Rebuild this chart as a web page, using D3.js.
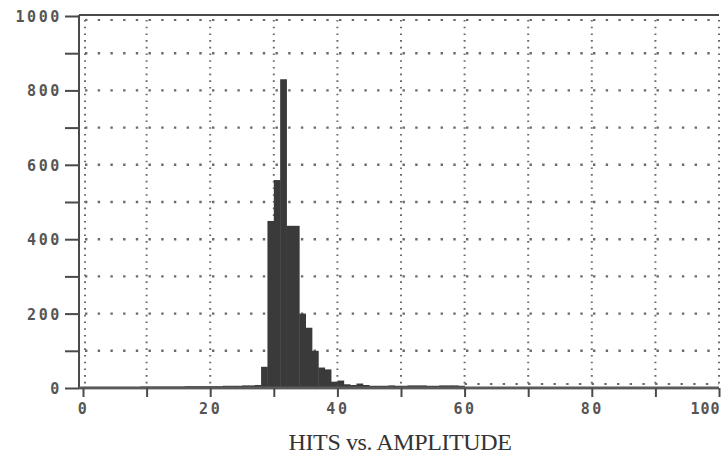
<!DOCTYPE html>
<html><head><meta charset="utf-8">
<script src="https://cdn.jsdelivr.net/npm/d3@7"></script>
<style>html,body{margin:0;padding:0;background:#fff;}svg{display:block;}</style>
</head><body>
<svg id="c" width="721" height="457"></svg>
<script>
// Histogram: hits per 1-unit amplitude bin (bin start values)
const binStarts = d3.range(0, 60);
const hits = [3,3,3,3,3,3,3,3,3,4,4,4,4,4,4,4,5,5,5,5,5,5,6,6,6,7,7,8,
  57,449,559,830,436,436,200,162,100,55,50,17,20,10,8,12,8,6,6,6,7,6,6,7,7,7,6,6,7,7,7,6];
const xTickLabels = ["0","20","40","60","80","100"];
const yTickLabels = ["0","200","400","600","800","1000"];
const title = "HITS vs. AMPLITUDE";

const svg = d3.select("#c");
const x = d3.scaleLinear().domain([0,100]).range([83,719]);
const y = d3.scaleLinear().domain([0,1000]).range([388,16]);
const ink = "#4a4a4a", grid = "#6a6a6a";

// grid: vertical dotted lines every 10
const gv = svg.append("g");
d3.range(0,101,10).forEach(v=>{
  const xx = v===0 ? x(v)+2 : x(v);
  gv.append("line").attr("x1",xx).attr("x2",xx).attr("y1",y(1000)+4).attr("y2",y(0)-3)
    .attr("stroke",grid).attr("stroke-width",2).attr("stroke-dasharray","1.6,5.1");
});
// horizontal dotted lines every 100
d3.range(100,1000,100).forEach(v=>{
  gv.append("line").attr("x1",x(0)+2).attr("x2",x(100)).attr("y1",y(v)).attr("y2",y(v))
    .attr("stroke",grid).attr("stroke-width",2.4).attr("stroke-dasharray","2.4,10.3");
});
// top row of dots just under top border
gv.append("line").attr("x1",x(0)+2).attr("x2",x(100)).attr("y1",y(1000)+4).attr("y2",y(1000)+4)
  .attr("stroke",grid).attr("stroke-width",2).attr("stroke-dasharray","2.4,10.3");
// dots just above baseline beyond data
gv.append("line").attr("x1",x(60)).attr("x2",x(100)).attr("y1",y(0)-4).attr("y2",y(0)-4)
  .attr("stroke",grid).attr("stroke-width",2).attr("stroke-dasharray","2.4,10.3");

// bars
svg.append("g").selectAll("rect").data(binStarts).join("rect")
  .attr("x",d=>x(d)).attr("width",d=>x(d+1)-x(d)+0.4)
  .attr("y",(d,i)=>y(hits[i])).attr("height",(d,i)=>y(0)-y(hits[i]))
  .attr("fill","#3a3a3a");

// frame: left axis, top border, bottom axis
svg.append("line").attr("x1",x(0)-4).attr("x2",x(0)-4).attr("y1",y(1000)-1).attr("y2",y(0)+1)
  .attr("stroke",ink).attr("stroke-width",2);
svg.append("line").attr("x1",x(0)-4).attr("x2",x(100)).attr("y1",y(1000)-1).attr("y2",y(1000)-1)
  .attr("stroke",ink).attr("stroke-width",2);
svg.append("line").attr("x1",x(0)-4).attr("x2",x(100)).attr("y1",y(0)).attr("y2",y(0))
  .attr("stroke","#5a5a5a").attr("stroke-width",3);
svg.append("line").attr("x1",x(0)-4).attr("x2",x(100)).attr("y1",y(0)+1.5).attr("y2",y(0)+1.5)
  .attr("stroke","#bdbdbd").attr("stroke-width",1);

// y axis ticks (every 100) and labels
const yAxis = d3.axisLeft(y).tickValues(d3.range(0,1001,100)).tickSize(14).tickPadding(3)
  .tickFormat(d=> yTickLabels.includes(String(d)) ? String(d) : "");
const gy = svg.append("g").attr("transform",`translate(${x(0)-4},0)`).call(yAxis);
gy.select(".domain").remove();
gy.selectAll(".tick line").attr("stroke",ink).attr("stroke-width",2);
gy.selectAll(".tick text").attr("font-family","DejaVu Sans Mono").attr("font-weight","bold")
  .attr("font-size",15).attr("letter-spacing","2.6px").attr("fill","#555").attr("dy","0.36em");

// x axis ticks (every 10) and labels
const xAxis = d3.axisBottom(x).tickValues(d3.range(0,101,10)).tickSize(9).tickPadding(6)
  .tickFormat(d=> xTickLabels.includes(String(d)) ? String(d) : "");
const gx = svg.append("g").attr("transform",`translate(0,${y(0)})`).call(xAxis);
gx.select(".domain").remove();
gx.selectAll(".tick line").attr("stroke",ink).attr("stroke-width",2);
gx.selectAll(".tick text").attr("font-family","DejaVu Sans Mono").attr("font-weight","bold")
  .attr("font-size",15).attr("letter-spacing","2.6px").attr("fill","#555")
  .filter(d=>d===100).attr("text-anchor","end").attr("x",1).attr("letter-spacing","1px");

// title
svg.append("text").attr("x",400).attr("y",450).attr("text-anchor","middle")
  .attr("font-family","Liberation Serif").attr("font-size",24).attr("fill","#333")
  .attr("letter-spacing","-0.4px").text(title);
</script>
</body></html>
